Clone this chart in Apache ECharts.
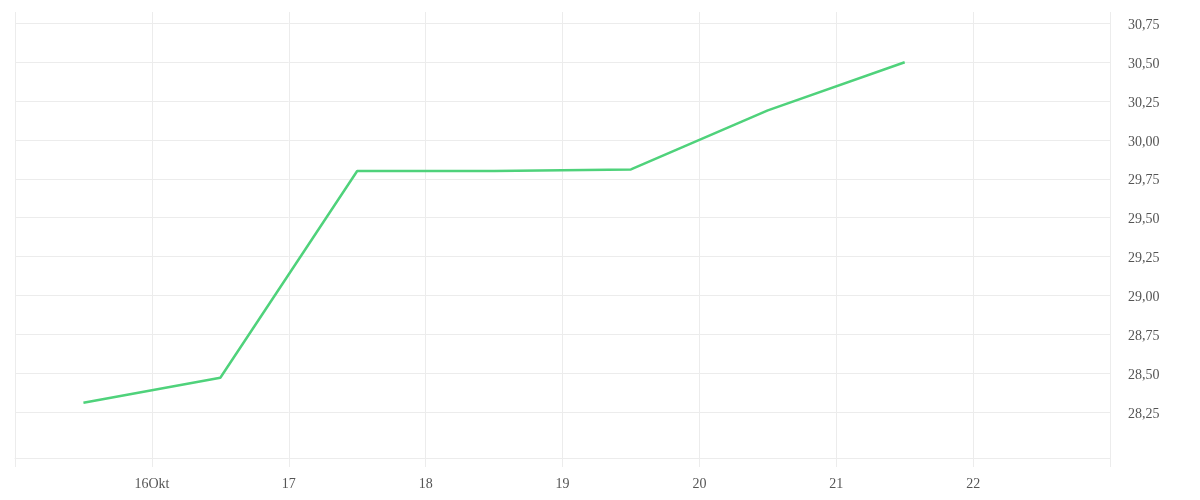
<!DOCTYPE html>
<html>
<head>
<meta charset="utf-8">
<script src="https://cdn.jsdelivr.net/npm/echarts@6/dist/echarts.min.js"></script>
<style>html,body{margin:0;padding:0;background:#fff}#c{width:1200px;height:500px}</style>
</head>
<body>
<div id="c"></div>
<script>
// Data
var dates = ['2023-10-15 12:00','2023-10-16 12:00','2023-10-17 12:00','2023-10-18 12:00','2023-10-19 12:00','2023-10-20 12:00','2023-10-21 12:00'];
var values = [28.31, 28.47, 29.80, 29.80, 29.81, 30.19, 30.50];
var xTickDates = ['2023-10-15','2023-10-16','2023-10-17','2023-10-18','2023-10-19','2023-10-20','2023-10-21','2023-10-22','2023-10-23'];
var xTickLabels = ['', '16Okt', '17', '18', '19', '20', '21', '22', ''];
var yTickValues = [28.25, 28.5, 28.75, 29.0, 29.25, 29.5, 29.75, 30.0, 30.25, 30.5, 30.75];
var yTickLabels = ['28,25','28,50','28,75','29,00','29,25','29,50','29,75','30,00','30,25','30,50','30,75'];

function t(s){ var p = s.split(/[- :]/); return Date.UTC(+p[0], +p[1]-1, +p[2], +(p[3]||0), +(p[4]||0)); }
var xTicks = xTickDates.map(t);
var labelMap = {};
xTicks.forEach(function(v,i){ labelMap[v] = xTickLabels[i]; });
var yLabelMap = {};
yTickValues.forEach(function(v,i){ yLabelMap[v.toFixed(2)] = yTickLabels[i]; });

var grid = '#ececec';
var font = 'Liberation Serif';
var chart = echarts.init(document.getElementById('c'));
chart.setOption({
  animation: false,
  grid: { left: 15, right: 90, top: 12, bottom: 42 },
  xAxis: {
    type: 'value',
    min: xTicks[0],
    max: xTicks[xTicks.length-1],
    axisLine: { show: true, lineStyle: { color: grid, width: 1 } },
    axisTick: { show: true, length: 9, lineStyle: { color: grid }, customValues: xTicks },
    splitLine: { show: true, lineStyle: { color: grid, width: 1 } },
    axisLabel: {
      customValues: xTicks.slice(1, -1),
      margin: 19,
      color: '#555',
      fontFamily: font,
      fontSize: 14,
      formatter: function(v){ return labelMap[v] || ''; }
    }
  },
  yAxis: {
    type: 'value',
    position: 'right',
    min: 27.954,
    max: 30.823,
    axisLine: { show: false },
    axisTick: { show: false, customValues: yTickValues },
    splitLine: { show: true, lineStyle: { color: grid, width: 1 } },
    axisLabel: {
      customValues: yTickValues,
      margin: 18,
      verticalAlign: 'top',
      lineHeight: 4,
      color: '#555',
      fontFamily: font,
      fontSize: 14,
      formatter: function(v){ return yLabelMap[(+v).toFixed(2)] || ''; }
    }
  },
  series: [{
    type: 'line',
    data: dates.map(function(d,i){ return [t(d), values[i]]; }),
    showSymbol: false,
    symbol: 'none',
    lineStyle: { color: '#4fd27b', width: 2.5 },
    itemStyle: { color: '#4fd27b' }
  }]
});
</script>
</body>
</html>
